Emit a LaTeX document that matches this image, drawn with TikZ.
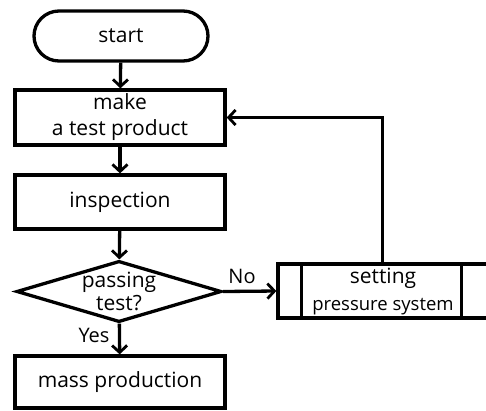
\documentclass[tikz,border=0pt]{standalone}
\usepackage{fontspec}
\setmainfont{Open Sans}
\usetikzlibrary{shapes.geometric,arrows.meta,calc}
\begin{document}
\begin{tikzpicture}[x=1pt,y=-1pt,
  every node/.style={font=\fontsize{21}{26}\selectfont, inner sep=0pt, align=center},
  box/.style={draw, line width=3.3pt, rectangle, minimum width=210pt, minimum height=55pt},
  term/.style={draw, line width=3.3pt, rectangle, rounded corners=25pt, minimum width=174pt, minimum height=50pt},
  decision/.style={draw, line width=3.3pt, diamond, aspect=3.3, minimum width=205pt, minimum height=61pt},
  arr/.style={line width=3.3pt, -{Straight Barb[length=7pt,width=15pt,line width=2.8pt]}},
  lbl/.style={font=\fontsize{20}{24}\selectfont}
]
\useasboundingbox (0,0) rectangle (486,410);
\clip (0,0) rectangle (486,410);
\node[term] (start) at (121,36) {start};
\node[box, minimum height=55pt] (make) at (120,117.5) {make\\a test product};
\node[box, minimum height=54pt] (insp) at (120,202) {inspection};
\node[decision, font=\fontsize{21}{23}\selectfont] (dec) at (119,291.5) {passing\\test?};
\node[box, minimum height=52pt] (mass) at (120,382) {mass production};
\node[box, minimum width=230pt, minimum height=54pt] (set) at (393,291) {};
\node[font=\fontsize{21}{27}\selectfont] (settxt) at (383,292)
  {setting\\{\fontsize{18.5}{20}\selectfont pressure system}};
\draw[line width=3.3pt] ($(set.north west)+(25,0)$) -- ($(set.south west)+(25,0)$);
\draw[line width=3.3pt] ($(set.north west)+(185,0)$) -- ($(set.south west)+(185,0)$);
\coordinate (fb) at ($(set.north west)+(106,0)$);
\draw[arr] (start) -- (make);
\draw[arr] (make) -- (insp);
\draw[arr] (insp) -- (dec);
\draw[arr] (dec) -- (mass);
\draw[arr] (dec.east) -- (set.west);
\draw[arr] (fb) |- (make.east);
\node[lbl] (yes) at (94,335) {Yes};
\node[lbl] (no) at (242,276) {No};
\end{tikzpicture}
\end{document}
